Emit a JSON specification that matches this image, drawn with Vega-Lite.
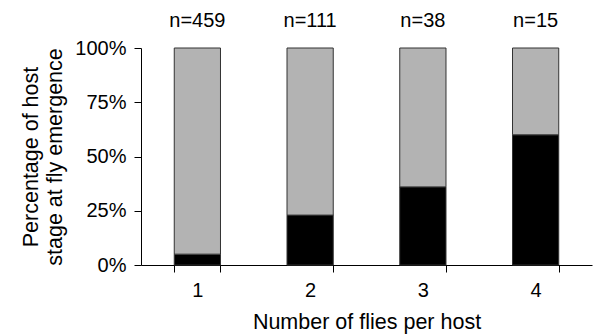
{
  "$schema": "https://vega.github.io/schema/vega-lite/v6.json",
  "autosize": {"type": "none"},
  "width": 451,
  "height": 217,
  "padding": {"left": 141, "top": 48, "right": 6, "bottom": 69},
  "background": "white",
  "config": {
    "view": {"stroke": null},
    "font": "Liberation Sans",
    "axis": {
      "labelFont": "Liberation Sans",
      "titleFont": "Liberation Sans",
      "labelFontSize": 20,
      "titleFontSize": 21.5,
      "titleFontWeight": "normal",
      "labelColor": "black",
      "titleColor": "black",
      "domainColor": "black",
      "tickColor": "black",
      "tickSize": 7,
      "grid": false
    }
  },
  "datasets": {
    "bars": [
      {"flies": "1", "stage": "black", "share": 0.05},
      {"flies": "1", "stage": "gray", "share": 0.95},
      {"flies": "2", "stage": "black", "share": 0.23},
      {"flies": "2", "stage": "gray", "share": 0.77},
      {"flies": "3", "stage": "black", "share": 0.36},
      {"flies": "3", "stage": "gray", "share": 0.64},
      {"flies": "4", "stage": "black", "share": 0.60},
      {"flies": "4", "stage": "gray", "share": 0.40}
    ],
    "counts": [
      {"flies": "1", "label": "n=459"},
      {"flies": "2", "label": "n=111"},
      {"flies": "3", "label": "n=38"},
      {"flies": "4", "label": "n=15"}
    ]
  },
  "layer": [
    {
      "data": {"name": "bars"},
      "mark": {"type": "bar", "stroke": "#333333", "strokeWidth": 1},
      "encoding": {
        "x": {
          "field": "flies",
          "type": "nominal",
          "scale": {"paddingInner": 0.59, "paddingOuter": 0.295},
          "axis": {
            "title": "Number of flies per host",
            "labelAngle": 0,
            "tickBand": "extent",
            "labelPadding": 8,
            "titlePadding": 11
          }
        },
        "y": {
          "field": "share",
          "type": "quantitative",
          "stack": "zero",
          "scale": {"domain": [0, 1]},
          "axis": {
            "title": ["Percentage of host", "stage at fly emergence"],
            "values": [0, 0.25, 0.5, 0.75, 1],
            "format": ".0%",
            "labelPadding": 8,
            "titlePadding": 8,
            "titleLineHeight": 24
          }
        },
        "color": {
          "field": "stage",
          "type": "nominal",
          "scale": {"domain": ["black", "gray"], "range": ["#000000", "#b3b3b3"]},
          "legend": null
        },
        "order": {"field": "stage", "sort": "ascending"}
      }
    },
    {
      "data": {"name": "counts"},
      "mark": {"type": "text", "font": "Liberation Sans", "fontSize": 20, "color": "black", "baseline": "alphabetic", "dy": -21.5},
      "encoding": {
        "x": {"field": "flies", "type": "nominal"},
        "y": {"datum": 1},
        "text": {"field": "label"}
      }
    }
  ]
}
